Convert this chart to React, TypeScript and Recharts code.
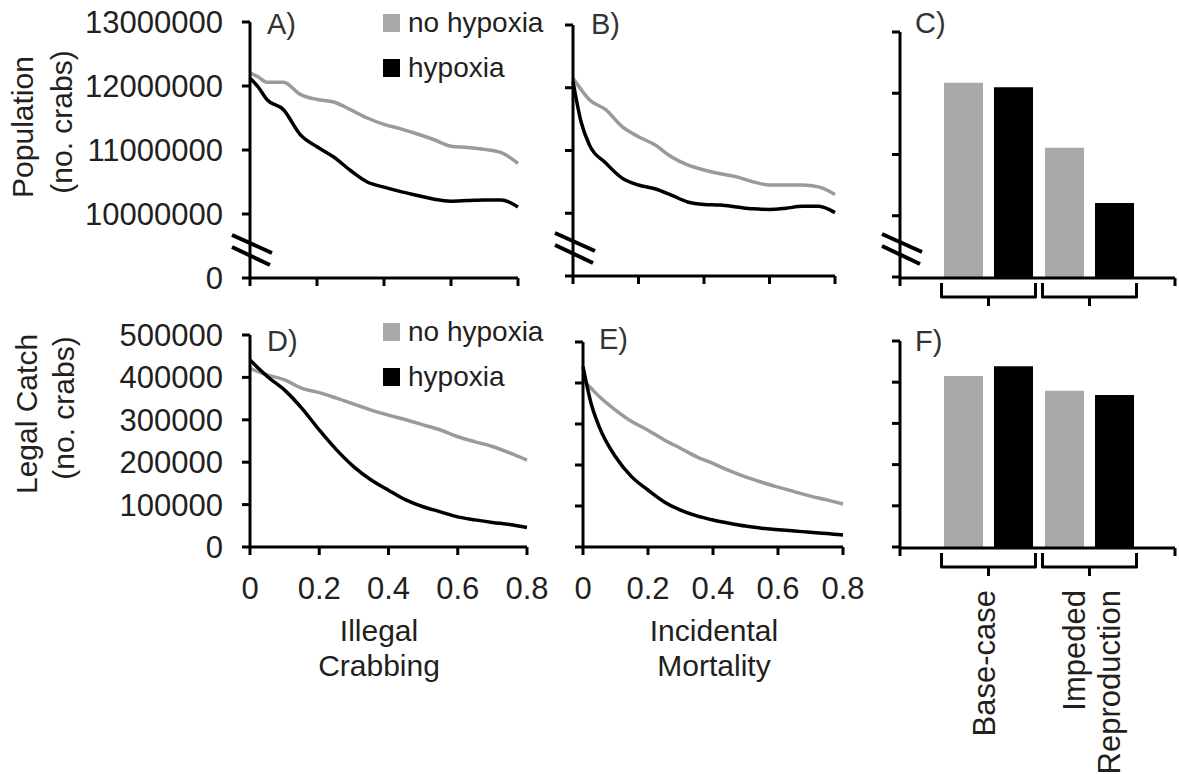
import React from "react";
import { LineChart, Line, BarChart, Bar, XAxis, YAxis, Legend } from "recharts";

// x values (proportion of crabs affected)
const X_VALUES = [0, 0.025, 0.05, 0.1, 0.15, 0.2, 0.25, 0.3, 0.35, 0.4, 0.45, 0.5, 0.55, 0.6, 0.65, 0.7, 0.75, 0.8];
const X_TICKS = [0, 0.2, 0.4, 0.6, 0.8];

// A) population vs illegal crabbing
const POP_ILLEGAL_NO_HYP = [12200000, 12140000, 12060000, 12060000, 11870000, 11790000, 11750000, 11630000, 11500000, 11400000, 11330000, 11250000, 11160000, 11060000, 11040000, 11010000, 10960000, 10790000];
const POP_ILLEGAL_HYP = [12120000, 11980000, 11790000, 11630000, 11240000, 11050000, 10890000, 10680000, 10500000, 10420000, 10350000, 10290000, 10230000, 10200000, 10210000, 10220000, 10220000, 10110000];

// B) population vs incidental mortality
const POP_INCID_NO_HYP = [12150000, 11970000, 11810000, 11650000, 11380000, 11220000, 11090000, 10900000, 10770000, 10690000, 10630000, 10580000, 10500000, 10450000, 10450000, 10450000, 10420000, 10300000];
const POP_INCID_HYP = [12100000, 11450000, 11090000, 10800000, 10560000, 10450000, 10390000, 10290000, 10180000, 10140000, 10130000, 10100000, 10070000, 10060000, 10080000, 10110000, 10110000, 10010000];

// D) legal catch vs illegal crabbing
const CATCH_ILLEGAL_NO_HYP = [421000, 413000, 406000, 394000, 374000, 364000, 351000, 337000, 323000, 311000, 300000, 288000, 276000, 260000, 248000, 237000, 222000, 205000];
const CATCH_ILLEGAL_HYP = [441000, 421000, 402000, 370000, 327000, 276000, 229000, 189000, 158000, 134000, 111000, 95000, 83000, 71000, 64000, 58000, 53000, 46000];

// E) legal catch vs incidental mortality
const CATCH_INCID_NO_HYP = [407000, 387000, 367000, 334000, 306000, 285000, 261000, 241000, 220000, 204000, 186000, 171000, 158000, 146000, 135000, 124000, 115000, 105000];
const CATCH_INCID_HYP = [440000, 350000, 293000, 220000, 171000, 139000, 110000, 90000, 76000, 66000, 58000, 51000, 46000, 42000, 39000, 36000, 33000, 29000];

// C) and F) scenarios
const SCENARIOS = ["Base-case", "Impeded Reproduction"];
const POP_BAR_NO_HYP = [12170000, 11110000];
const POP_BAR_HYP = [12100000, 10210000];
const CATCH_BAR_NO_HYP = [415000, 379000];
const CATCH_BAR_HYP = [439000, 369000];

// y axes: population axis is broken, the lowest tick stands for 0
const POP_TICKS = [9000000, 10000000, 11000000, 12000000, 13000000];
const CATCH_TICKS = [0, 100000, 200000, 300000, 400000, 500000];

const SERIES_NAMES = ["no hypoxia", "hypoxia"];

const INK = "#231f20";
const LINE_GRAY = "#9a9a9a";
const BAR_GRAY = "#a9a9a7";
const AXIS = { stroke: "#000", strokeWidth: 3 };
const TICK_FONT = { fontSize: 31, fill: INK };

type Frame = { x0: number; x1: number; y0: number; y1: number };
type Box = { left: number; top: number; width: number; height: number };

// plot areas of the six panels
const FRAMES: Record<string, Frame> = {
  A: { x0: 250, x1: 518, y0: 22, y1: 278 },
  B: { x0: 573, x1: 835, y0: 25, y1: 276 },
  C: { x0: 900, x1: 1175, y0: 32, y1: 277 },
  D: { x0: 250, x1: 527, y0: 335, y1: 547 },
  E: { x0: 583, x1: 843, y0: 342, y1: 547 },
  F: { x0: 900, x1: 1175, y0: 341, y1: 547 },
};

const popLabel = (v: number) => (v === 9000000 ? "0" : String(v));
const EmptyTick = () => <g />;

function makeRows(noHyp: number[], hyp: number[]) {
  return X_VALUES.map((x, i) => ({ x, noHyp: noHyp[i], hyp: hyp[i] }));
}

function LegendBox() {
  const colors = [BAR_GRAY, "#000"];
  return (
    <div style={{ fontSize: 28, color: INK, lineHeight: 1 }}>
      {SERIES_NAMES.map((name, i) => (
        <div key={name} style={{ display: "flex", alignItems: "center", height: 45.5 }}>
          <span style={{ width: 17, height: 18, background: colors[i], marginRight: 8, display: "inline-block" }} />
          <span>{name}</span>
        </div>
      ))}
    </div>
  );
}

interface LinePanelProps {
  frame: Frame;
  box: Box;
  xAxisHeight: number;
  data: { x: number; noHyp: number; hyp: number }[];
  yDomain: [number, number];
  yTicks: number[];
  yLabels?: (v: number) => string;
  xLabels?: boolean;
  legendTop?: number;
}

function LinePanel({ frame, box, xAxisHeight, data, yDomain, yTicks, yLabels, xLabels, legendTop }: LinePanelProps) {
  const margin = {
    top: frame.y0 - box.top,
    right: box.left + box.width - frame.x1,
    left: 0,
    bottom: box.top + box.height - frame.y1 - xAxisHeight,
  };
  return (
    <div style={{ position: "absolute", left: box.left, top: box.top }}>
      <LineChart width={box.width} height={box.height} data={data} margin={margin}>
        <XAxis
          dataKey="x"
          type="number"
          domain={[0, 0.8]}
          ticks={X_TICKS}
          interval={0}
          height={xAxisHeight}
          axisLine={AXIS}
          tickLine={AXIS}
          tickSize={8}
          tickMargin={22}
          tick={xLabels ? TICK_FONT : EmptyTick}
        />
        <YAxis
          type="number"
          domain={yDomain}
          ticks={yTicks}
          interval={0}
          width={frame.x0 - box.left}
          axisLine={AXIS}
          tickLine={AXIS}
          tickSize={8}
          tickMargin={19}
          tick={yLabels ? TICK_FONT : EmptyTick}
          tickFormatter={yLabels}
        />
        <Line type="monotone" dataKey="noHyp" name={SERIES_NAMES[0]} stroke={LINE_GRAY} strokeWidth={3.5} dot={false} isAnimationActive={false} />
        <Line type="monotone" dataKey="hyp" name={SERIES_NAMES[1]} stroke="#000" strokeWidth={3.5} dot={false} isAnimationActive={false} />
        {legendTop !== undefined && (
          <Legend
            layout="horizontal"
            verticalAlign="middle"
            align="center"
            content={<LegendBox />}
            wrapperStyle={{ left: 383 - box.left, top: legendTop, width: 180 }}
          />
        )}
      </LineChart>
    </div>
  );
}

// category bracket under each pair of bars, with the rotated scenario name
function BracketTick({ x, payload, axisY, showLabel }: any) {
  const y = axisY;
  const w = 47;
  const lines: string[] = String(payload.value).split(" ");
  const n = lines.length;
  const base = n === 1 ? 6 : 13;
  return (
    <g>
      <path
        d={`M${x - w},${y + 6} L${x - w},${y + 20} L${x + w},${y + 20} L${x + w},${y + 6} M${x},${y + 20} L${x},${y + 29}`}
        fill="none"
        stroke="#000"
        strokeWidth={3}
        strokeLinejoin="round"
      />
      {showLabel &&
        lines.map((t, i) => (
          <text
            key={t}
            transform={`translate(${x + base + (i - (n - 1) / 2) * 35}, ${y + 43}) rotate(-90)`}
            textAnchor="end"
            fontSize={31}
            fill={INK}
          >
            {t}
          </text>
        ))}
    </g>
  );
}

interface BarPanelProps {
  frame: Frame;
  box: Box;
  noHyp: number[];
  hyp: number[];
  yDomain: [number, number];
  yTicks: number[];
  showLabels?: boolean;
}

function BarPanel({ frame, box, noHyp, hyp, yDomain, yTicks, showLabels }: BarPanelProps) {
  const data = SCENARIOS.map((name, i) => ({ name, noHyp: noHyp[i], hyp: hyp[i] }));
  const CAT_H = 1;
  const FRAME_H = 8;
  const margin = {
    top: frame.y0 - box.top,
    right: box.left + box.width - frame.x1,
    left: 0,
    bottom: box.top + box.height - frame.y1 - FRAME_H - CAT_H,
  };
  return (
    <div style={{ position: "absolute", left: box.left, top: box.top }}>
      <BarChart width={box.width} height={box.height} data={data} margin={margin} barGap={11} barSize={39}>
        <XAxis
          xAxisId="cat"
          dataKey="name"
          type="category"
          padding={{ left: 38, right: 35 }}
          height={CAT_H}
          interval={0}
          axisLine={false}
          tickLine={false}
          tickSize={0}
          tickMargin={0}
          tick={(p: any) => <BracketTick {...p} axisY={frame.y1 - box.top} showLabel={showLabels} />}
        />
        <XAxis
          xAxisId="frame"
          type="number"
          domain={[0, 1]}
          ticks={[0, 1]}
          allowDataOverflow
          height={FRAME_H}
          axisLine={AXIS}
          tickLine={AXIS}
          tickSize={8}
          tick={EmptyTick}
        />
        <YAxis
          type="number"
          domain={yDomain}
          ticks={yTicks}
          interval={0}
          allowDataOverflow
          width={frame.x0 - box.left}
          axisLine={AXIS}
          tickLine={AXIS}
          tickSize={8}
          tick={EmptyTick}
        />
        <Bar xAxisId="cat" dataKey="noHyp" name={SERIES_NAMES[0]} fill={BAR_GRAY} isAnimationActive={false} />
        <Bar xAxisId="cat" dataKey="hyp" name={SERIES_NAMES[1]} fill="#000" isAnimationActive={false} />
      </BarChart>
    </div>
  );
}

// two slanted strokes marking the axis break
function BreakMark({ frame }: { frame: Frame }) {
  const { x0, y1 } = frame;
  return (
    <g stroke="#000" strokeWidth={4}>
      <line x1={x0 - 18} y1={y1 - 43} x2={x0 + 22} y2={y1 - 25} />
      <line x1={x0 - 18} y1={y1 - 31} x2={x0 + 20} y2={y1 - 13} />
    </g>
  );
}

const PANEL_LETTERS = [
  { t: "A)", x: 267, y: 34 },
  { t: "B)", x: 591, y: 34 },
  { t: "C)", x: 915, y: 33 },
  { t: "D)", x: 267, y: 351 },
  { t: "E)", x: 599, y: 349 },
  { t: "F)", x: 915, y: 351 },
];

export default function App() {
  return (
    <div
      style={{
        position: "absolute",
        left: 0,
        top: 0,
        width: 1179,
        height: 774,
        background: "#fff",
        fontFamily: '"Liberation Sans", Arial, sans-serif',
        overflow: "hidden",
      }}
    >
      <LinePanel
        frame={FRAMES.A}
        box={{ left: 0, top: 0, width: 530, height: 300 }}
        xAxisHeight={12}
        data={makeRows(POP_ILLEGAL_NO_HYP, POP_ILLEGAL_HYP)}
        yDomain={[9000000, 13000000]}
        yTicks={POP_TICKS}
        yLabels={popLabel}
        legendTop={0}
      />
      <LinePanel
        frame={FRAMES.B}
        box={{ left: 540, top: 0, width: 305, height: 300 }}
        xAxisHeight={12}
        data={makeRows(POP_INCID_NO_HYP, POP_INCID_HYP)}
        yDomain={[9000000, 13000000]}
        yTicks={POP_TICKS}
      />
      <BarPanel
        frame={FRAMES.C}
        box={{ left: 860, top: 0, width: 319, height: 330 }}
        noHyp={POP_BAR_NO_HYP}
        hyp={POP_BAR_HYP}
        yDomain={[9000000, 13000000]}
        yTicks={POP_TICKS}
      />
      <LinePanel
        frame={FRAMES.D}
        box={{ left: 0, top: 300, width: 560, height: 310 }}
        xAxisHeight={50}
        data={makeRows(CATCH_ILLEGAL_NO_HYP, CATCH_ILLEGAL_HYP)}
        yDomain={[0, 500000]}
        yTicks={CATCH_TICKS}
        yLabels={(v: number) => String(v)}
        xLabels
        legendTop={9}
      />
      <LinePanel
        frame={FRAMES.E}
        box={{ left: 550, top: 300, width: 330, height: 310 }}
        xAxisHeight={50}
        data={makeRows(CATCH_INCID_NO_HYP, CATCH_INCID_HYP)}
        yDomain={[0, 500000]}
        yTicks={CATCH_TICKS}
        xLabels
      />
      <BarPanel
        frame={FRAMES.F}
        box={{ left: 860, top: 300, width: 319, height: 474 }}
        noHyp={CATCH_BAR_NO_HYP}
        hyp={CATCH_BAR_HYP}
        yDomain={[0, 500000]}
        yTicks={CATCH_TICKS}
        showLabels
      />

      <svg width={1179} height={774} style={{ position: "absolute", left: 0, top: 0, pointerEvents: "none" }}>
        <BreakMark frame={FRAMES.A} />
        <BreakMark frame={FRAMES.B} />
        <BreakMark frame={FRAMES.C} />

        {PANEL_LETTERS.map((p) => (
          <text key={p.t} x={p.x} y={p.y} fontSize={29} fill="#333">
            {p.t}
          </text>
        ))}

        <g fontSize={30} fill={INK} textAnchor="middle">
          <text transform="translate(33,127) rotate(-90)">Population</text>
          <text transform="translate(72,122) rotate(-90)">(no. crabs)</text>
          <text transform="translate(37,414) rotate(-90)">Legal Catch</text>
          <text transform="translate(74,408) rotate(-90)">(no. crabs)</text>
          <text x={379} y={641}>Illegal</text>
          <text x={379} y={676}>Crabbing</text>
          <text x={714} y={641}>Incidental</text>
          <text x={714} y={676}>Mortality</text>
        </g>
      </svg>
    </div>
  );
}
